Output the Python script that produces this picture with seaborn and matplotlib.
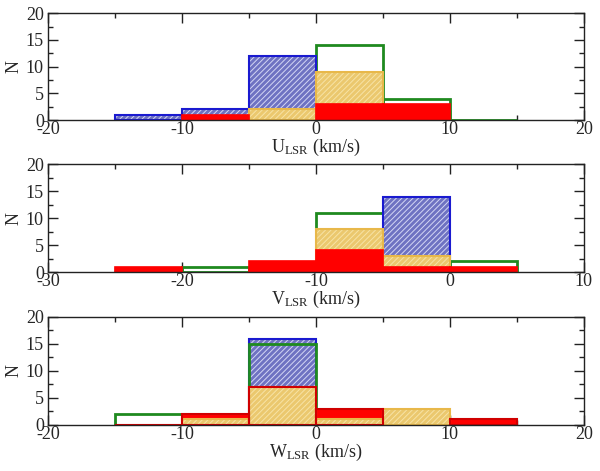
import numpy as np
import seaborn as sns
import matplotlib
matplotlib.use('Agg')
import matplotlib.pyplot as plt
from matplotlib.ticker import MultipleLocator

# bin counts (None = no bar in that bin)
u_edges = [-15, -10, -5, 0, 5, 10, 15]
u_blue = [1, 2, 12, None, None, None]
u_green = [None, None, None, 14, 4, 0]
u_yellow = [None, None, 2, 9, None, None]
u_red = [None, 1, None, 3, 3, None]

v_edges = [-25, -20, -15, -10, -5, 0, 5]
v_blue = [None, None, None, None, 14, None]
v_green = [None, 1, None, 11, None, 2]
v_yellow = [None, None, None, 8, 3, None]
v_red = [1, None, 2, 4, 1, 1]

w_edges = [-15, -10, -5, 0, 5, 10, 15]
w_blue = [None, None, 16, None, None, None]
w_green = [2, None, 15, None, None, None]
w_yellow = [None, 1, 7, 1, 3, None]
w_red = [0, 2, 7, 3, None, 1]

xlabels = [r'U$_{\mathrm{LSR}}$ (km/s)', r'V$_{\mathrm{LSR}}$ (km/s)', r'W$_{\mathrm{LSR}}$ (km/s)']
xlims = [(-20, 20), (-30, 10), (-20, 20)]

sns.set_style('ticks')
plt.rcParams['font.family'] = ['Liberation Serif', 'DejaVu Serif']
plt.rcParams['mathtext.fontset'] = 'custom'
plt.rcParams['mathtext.rm'] = 'Liberation Serif'
plt.rcParams['mathtext.it'] = 'Liberation Serif:italic'
plt.rcParams['axes.unicode_minus'] = False
plt.rcParams['hatch.linewidth'] = 0.7

BLUE_FACE, BLUE_HATCH, BLUE_EDGE = '#6e72c2', '#d4d6f4', '#1a1ad0'
YEL_FACE, YEL_HATCH, YEL_EDGE = '#ebc86e', '#f7e3a6', '#e8b84a'
RED = '#ff0000'
GREEN = '#1f8a1f'


def hist(ax, edges, counts, fill=True, color=None, edgecolor=None, lw=1.5, hatch=None):
    n0 = len(ax.patches)
    centers = [(edges[i] + edges[i + 1]) / 2 for i in range(len(counts))]
    w = [0 if c is None else c for c in counts]
    if fill:
        sns.histplot(x=centers, weights=w, bins=edges, ax=ax, fill=True, color=color,
                     edgecolor=edgecolor, linewidth=lw, hatch=hatch, alpha=1)
    else:
        sns.histplot(x=centers, weights=w, bins=edges, ax=ax, fill=False, color=edgecolor,
                     linewidth=lw, alpha=1)
    for p, c in zip(ax.patches[n0:], counts):
        if c is None:
            p.set_visible(False)


def hatched(ax, edges, counts, face, hcol, edge):
    hist(ax, edges, counts, fill=True, color=face, edgecolor=hcol, lw=0, hatch='//////')
    hist(ax, edges, counts, fill=False, edgecolor=edge, lw=1.5)


fig = plt.figure(figsize=(6, 4.71), dpi=100)
axes = [fig.add_axes([0.08, 0.745, 0.893, 0.227]),
        fig.add_axes([0.08, 0.4225, 0.893, 0.229]),
        fig.add_axes([0.08, 0.098, 0.893, 0.229])]

# U panel
ax = axes[0]
hist(ax, u_edges, u_green, fill=False, edgecolor=GREEN, lw=2)
hatched(ax, u_edges, u_blue, BLUE_FACE, BLUE_HATCH, BLUE_EDGE)
hatched(ax, u_edges, u_yellow, YEL_FACE, YEL_HATCH, YEL_EDGE)
hist(ax, u_edges, u_red, color=RED, edgecolor=RED, lw=1.2)

# V panel
ax = axes[1]
hist(ax, v_edges, v_green, fill=False, edgecolor=GREEN, lw=2)
hatched(ax, v_edges, v_blue, BLUE_FACE, BLUE_HATCH, BLUE_EDGE)
hatched(ax, v_edges, v_yellow, YEL_FACE, YEL_HATCH, YEL_EDGE)
hist(ax, v_edges, v_red, color=RED, edgecolor=RED, lw=1.2)

# W panel
ax = axes[2]
hatched(ax, w_edges, w_blue, BLUE_FACE, BLUE_HATCH, BLUE_EDGE)
hist(ax, w_edges, w_green, fill=False, edgecolor=GREEN, lw=2)
hist(ax, w_edges, w_red, color=RED, edgecolor=RED, lw=1.2)
hatched(ax, w_edges, w_yellow, YEL_FACE, YEL_HATCH, YEL_EDGE)
hist(ax, w_edges, w_red, fill=False, edgecolor='#d00000', lw=1.5)

for ax, xl, lim in zip(axes, xlabels, xlims):
    ax.set_xlim(*lim)
    ax.set_ylim(0, 20)
    ax.xaxis.set_major_locator(MultipleLocator(10))
    ax.xaxis.set_minor_locator(MultipleLocator(5))
    ax.yaxis.set_major_locator(MultipleLocator(5))
    ax.yaxis.set_minor_locator(MultipleLocator(2.5))
    ax.tick_params(which='both', direction='in', top=True, right=True, labelsize=13,
                   color='#222222', width=1)
    ax.tick_params(axis='x', pad=1)
    ax.tick_params(axis='y', pad=3)
    ax.tick_params(which='major', length=7)
    ax.tick_params(which='minor', length=3.5)
    for s in ax.spines.values():
        s.set_visible(True)
        s.set_linewidth(1)
        s.set_color('#222222')
    ax.set_xlabel(xl, fontsize=13, labelpad=-1)
    ax.set_ylabel('N', fontsize=13, labelpad=2)

fig.savefig('out.png', dpi=100)
